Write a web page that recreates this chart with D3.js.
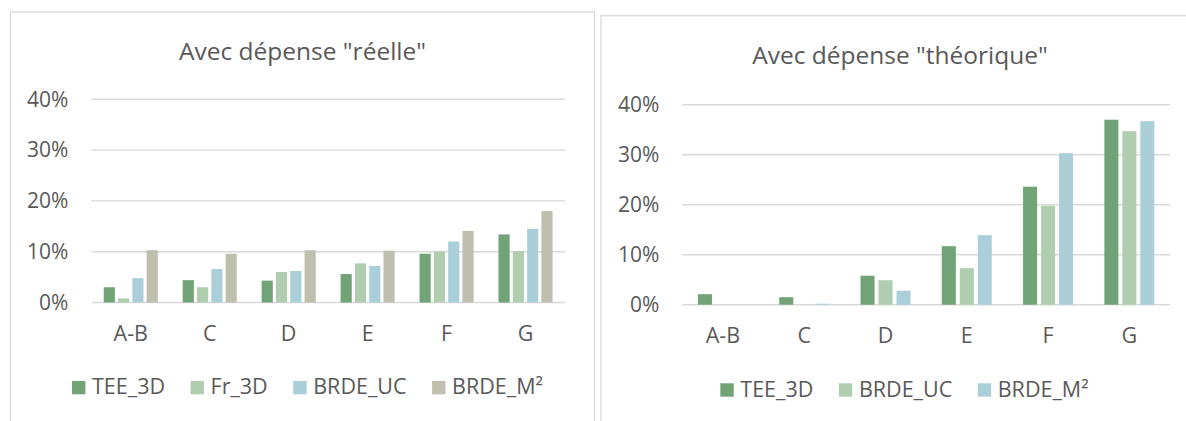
<!DOCTYPE html>
<html>
<head>
<meta charset="utf-8">
<script src="https://cdn.jsdelivr.net/npm/d3@7"></script>
<style>
  body { margin: 0; background: #fff; }
  svg { display: block; font-family: 'Open Sans', 'Noto Sans', sans-serif; }
</style>
</head>
<body>
<div id="chart"></div>
<script>
let categories = ['A-B', 'C', 'D', 'E', 'F', 'G']
let yTicks = [0, 10, 20, 30, 40]

// "réelle" chart, values in %
let reelleSeries = ['TEE_3D', 'Fr_3D', 'BRDE_UC', 'BRDE_M²']
let reelleTEE = [3.0, 4.4, 4.3, 5.6, 9.6, 13.4]
let reelleFr = [0.8, 3.0, 6.0, 7.7, 10.0, 10.1]
let reelleUC = [4.8, 6.6, 6.2, 7.2, 12.0, 14.5]
let reelleM2 = [10.3, 9.6, 10.3, 10.2, 14.1, 18.0]

// "théorique" chart, values in %
let theoSeries = ['TEE_3D', 'BRDE_UC', 'BRDE_M²']
let theoTEE = [2.1, 1.5, 5.8, 11.7, 23.6, 37.0]
let theoUC = [0, 0, 4.9, 7.3, 19.8, 34.7]
let theoM2 = [0, 0.2, 2.8, 13.9, 30.3, 36.7]

let width = 1186,
  height = 421,
  textColor = '#595959',
  gridColor = '#d9d9d9',
  colors = ['#71a376', '#b0cdaf', '#aacfd9', '#c0beaf'],
  labelSize = '21.5px'

let svg = d3.select('#chart').append('svg')
  .attr('width', width)
  .attr('height', height)

function drawChart(opt) {
  let g = svg.append('g')

  // frame
  g.append('rect')
    .attr('x', opt.frame[0])
    .attr('y', opt.frame[1])
    .attr('width', opt.frame[2])
    .attr('height', opt.frame[3])
    .attr('fill', 'none')
    .attr('stroke', gridColor)
    .attr('stroke-width', 1.3)

  g.append('text')
    .text(opt.title)
    .attr('x', opt.titleX)
    .attr('y', opt.titleY)
    .attr('text-anchor', 'middle')
    .attr('font-size', '24.5px')
    .attr('fill', textColor)

  let x0 = d3.scaleBand()
    .domain(categories)
    .range([opt.left, opt.right])

  let x1 = d3.scaleBand()
    .domain(opt.series)
    .range([0, x0.bandwidth()])
    .paddingInner(0.22)
    .paddingOuter(0.87)

  let y = d3.scaleLinear()
    .domain([0, 40])
    .range([opt.bottom, opt.top])

  // gridlines + y labels
  g.append('g').selectAll('line')
    .data(yTicks)
    .enter().append('line')
    .attr('x1', opt.left)
    .attr('x2', opt.right)
    .attr('y1', d => y(d))
    .attr('y2', d => y(d))
    .attr('stroke', gridColor)
    .attr('stroke-width', 1.4)

  g.append('g').selectAll('text')
    .data(yTicks)
    .enter().append('text')
    .text(d => d + '%')
    .attr('x', opt.left - 23)
    .attr('y', d => y(d))
    .attr('dy', '0.35em')
    .attr('text-anchor', 'end')
    .attr('font-size', '21px')
    .attr('fill', textColor)

  // bars
  let groups = g.append('g').selectAll('g')
    .data(categories)
    .enter().append('g')
    .attr('transform', d => 'translate(' + x0(d) + ',0)')

  groups.selectAll('rect')
    .data((d, i) => opt.series.map((s, j) => ({ s: s, j: j, v: opt.values[j][i] })))
    .enter().append('rect')
    .attr('x', d => x1(d.s))
    .attr('y', d => y(d.v))
    .attr('width', x1.bandwidth())
    .attr('height', d => y(0) - y(d.v))
    .attr('fill', d => colors[d.j])

  // category labels
  g.append('g').selectAll('text')
    .data(categories)
    .enter().append('text')
    .text(d => d)
    .attr('x', d => x0(d) + x0.bandwidth() / 2)
    .attr('y', opt.catY)
    .attr('text-anchor', 'middle')
    .attr('font-size', labelSize)
    .attr('fill', textColor)

  // legend, centred on legendX
  let legend = g.append('g')
  let pos = 0
  opt.series.forEach((s, j) => {
    legend.append('rect')
      .attr('x', pos)
      .attr('y', opt.legendY - 13.4)
      .attr('width', 13.4)
      .attr('height', 13.4)
      .attr('fill', colors[j])
    let t = legend.append('text')
      .text(s)
      .attr('x', pos + 20)
      .attr('y', opt.legendY)
      .attr('font-size', labelSize)
      .attr('fill', textColor)
    pos += 20 + t.node().getComputedTextLength() + 25.5
  })
  legend.attr('transform', 'translate(' + (opt.legendX - (pos - 25.5) / 2) + ',0)')
}

drawChart({
  title: 'Avec dépense "réelle"',
  series: reelleSeries,
  values: [reelleTEE, reelleFr, reelleUC, reelleM2],
  frame: [10.5, 12, 584, 430],
  titleX: 302.5,
  titleY: 60,
  left: 91.3,
  right: 565,
  top: 99.3,
  bottom: 302.5,
  catY: 341,
  legendX: 307.5,
  legendY: 394.3
})

drawChart({
  title: 'Avec dépense "théorique"',
  series: theoSeries,
  values: [theoTEE, theoUC, theoM2],
  frame: [601, 15.7, 600, 430],
  titleX: 900,
  titleY: 63.5,
  left: 682.3,
  right: 1170,
  top: 104.7,
  bottom: 304.7,
  catY: 343.3,
  legendX: 904.5,
  legendY: 396.7
})
</script>
</body>
</html>
